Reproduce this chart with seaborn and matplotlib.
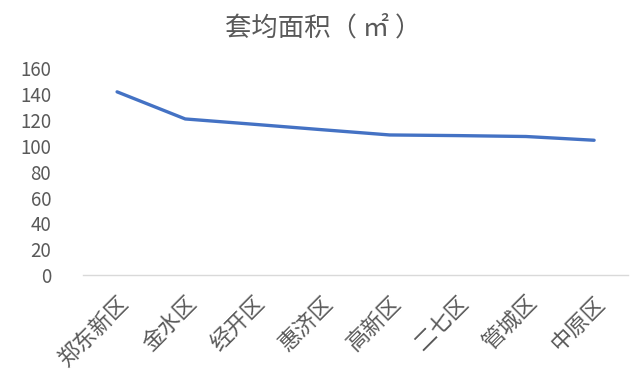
import matplotlib
matplotlib.use("Agg")
import matplotlib.pyplot as plt
import seaborn as sns
import pandas as pd

districts = ["郑东新区", "金水区", "经开区", "惠济区", "高新区", "二七区", "管城区", "中原区"]
avg_area = [141.9, 120.9, 116.8, 112.6, 108.5, 108.0, 107.3, 104.4]
y_ticks = [0, 20, 40, 60, 80, 100, 120, 140, 160]
title = "套均面积（ ㎡ ）"

sns.set_theme(style="white")
plt.rcParams["font.family"] = ["Noto Sans CJK SC", "DejaVu Sans"]

df = pd.DataFrame({"district": districts, "area": avg_area})

fig = plt.figure(figsize=(6.41, 3.79), dpi=100)
ax = fig.add_axes([0.1295, 0.2744, 0.8505, 0.5449])
sns.lineplot(data=df, x="district", y="area", ax=ax, color="#4472C4",
             linewidth=2.4, sort=False)

ax.set_xlim(-0.5, len(districts) - 0.5)
ax.set_ylim(0, 160)
ax.set_yticks(y_ticks)
ax.set_yticklabels([str(t) for t in y_ticks])
ax.set_xlabel("")
ax.set_ylabel("")
ax.tick_params(axis="y", length=0, labelsize=13.5, colors="#595959", pad=23)
ax.tick_params(axis="x", length=0, labelsize=16, colors="#595959", pad=12)
for lab in ax.get_xticklabels():
    lab.set_rotation(45)
    lab.set_ha("right")
    lab.set_rotation_mode("anchor")

for s in ["top", "right", "left"]:
    ax.spines[s].set_visible(False)
ax.spines["bottom"].set_color("#D9D9D9")
ax.spines["bottom"].set_linewidth(1)
ax.grid(False)

fig.text(0.504, 0.927, title, ha="center", va="center", fontsize=19, color="#595959")

fig.savefig("out.png", dpi=100)
